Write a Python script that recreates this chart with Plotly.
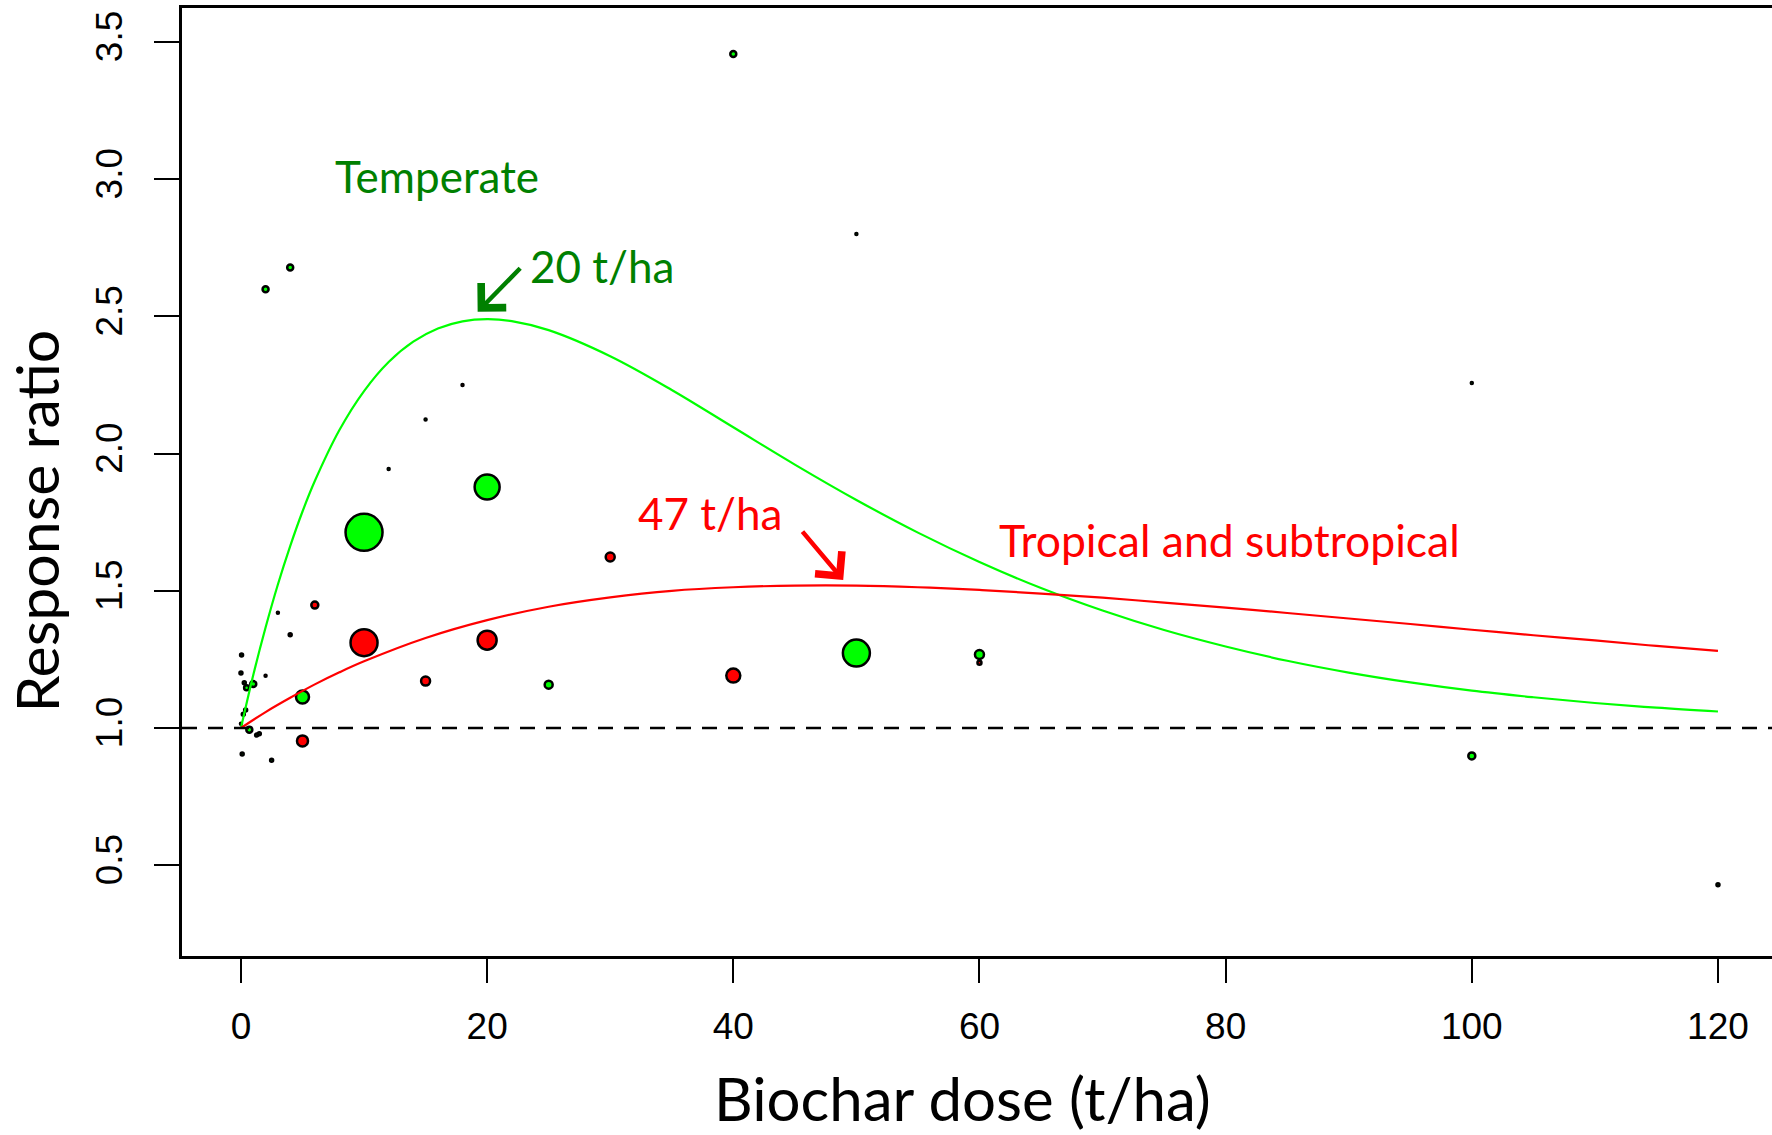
import plotly.graph_objects as go

# ---- Data ----
# Temperate studies (green points)
temp_dose = [10, 20, 50, 5, 60, 25, 40, 4, 2, 100, 1, 0.46, 0.68,
             0.05, 0, 0.27, 0.38, 0.19, 0, 1.27, 1.49, 0.1, 2.49,
             50, 100, 120, 12, 15]
temp_rr = [1.713, 1.878, 1.273, 1.113, 1.268, 1.158, 3.456, 2.678, 2.599, 0.898, 1.16, 1.147, 0.994,
           1.266, 1.20, 1.165, 1.066, 1.05, 1.015, 0.974, 0.979, 0.905, 0.882,
           2.80, 2.257, 0.429, 1.944, 2.124]
temp_weight = [39, 27, 29, 15, 11, 10, 8, 8, 8, 9, 8, 7, 8,
               5, 5, 5, 5, 5, 4, 5, 5, 5, 5,
               4, 4, 5, 4, 4]

# Tropical and subtropical studies (red points)
trop_dose = [10, 20, 30, 40, 15, 6, 5, 60, 18, 3, 4, 2]
trop_rr = [1.311, 1.320, 1.623, 1.191, 1.171, 1.448, 0.953, 1.238, 2.25, 1.42, 1.34, 1.19]
trop_weight = [29, 21, 11, 16, 11, 9, 13, 6, 4, 4, 5, 4]

# Fitted response curves
green_x = [0, 1, 2, 3, 4, 5, 6, 8, 10, 12, 14, 16, 18, 20, 22, 25, 30, 35, 40, 45, 50,
           55, 60, 65, 70, 75, 80, 85, 90, 95, 100, 105, 110, 115, 120]
green_y = [1.000, 1.193, 1.366, 1.523, 1.663, 1.789, 1.900, 2.086, 2.228, 2.334, 2.408, 2.456,
           2.482, 2.490, 2.483, 2.450, 2.355, 2.232, 2.096, 1.960, 1.831, 1.712, 1.605, 1.510,
           1.428, 1.357, 1.297, 1.245, 1.202, 1.166, 1.136, 1.112, 1.091, 1.074, 1.060]
red_x = [0, 2, 4, 6, 8, 10, 15, 20, 25, 30, 35, 40, 45, 50, 55, 60, 65, 70, 75, 80, 85, 90,
         95, 100, 105, 110, 115, 120]
red_y = [1.000, 1.058, 1.110, 1.159, 1.203, 1.243, 1.328, 1.393, 1.442, 1.476, 1.500, 1.513,
         1.519, 1.519, 1.513, 1.503, 1.490, 1.475, 1.457, 1.439, 1.419, 1.399, 1.379, 1.358,
         1.338, 1.319, 1.299, 1.281]

x_ticks = [0, 20, 40, 60, 80, 100, 120]
y_ticks = [0.5, 1.0, 1.5, 2.0, 2.5, 3.0, 3.5]
y_tick_text = ["0.5", "1.0", "1.5", "2.0", "2.5", "3.0", "3.5"]

peak_temp = (19.23, 2.517)
peak_trop = (48.93, 1.539)

GREEN = "#00FF00"
RED = "#FF0000"
DARKGREEN = "#008000"
TITLE_FONT = "Lato"
TICK_FONT = "Liberation Sans"

fig = go.Figure()

fig.add_hline(y=1.0, line=dict(color="black", width=2.5, dash="15px,11px"))

fig.add_trace(go.Scatter(
    x=temp_dose, y=temp_rr, mode="markers",
    marker=dict(color=GREEN, opacity=1, size=[max(w - 2, 2) for w in temp_weight],
                line=dict(color="black", width=2.5)),
    hoverinfo="skip"))
fig.add_trace(go.Scatter(
    x=trop_dose, y=trop_rr, mode="markers",
    marker=dict(color=RED, opacity=1, size=[max(w - 2, 2) for w in trop_weight],
                line=dict(color="black", width=2.5)),
    hoverinfo="skip"))

fig.add_trace(go.Scatter(x=green_x, y=green_y, mode="lines",
                         line=dict(color=GREEN, width=2.2, shape="spline")))
fig.add_trace(go.Scatter(x=red_x, y=red_y, mode="lines",
                         line=dict(color=RED, width=2.2, shape="spline")))

ann_font = 44
fig.add_annotation(x=7.45, y=3.01, text="Temperate", showarrow=False,
                   xanchor="left", yanchor="middle",
                   font=dict(family=TITLE_FONT, size=ann_font, color=DARKGREEN))
fig.add_annotation(x=23.36, y=2.684, text="20 t/ha", showarrow=False,
                   xanchor="left", yanchor="middle",
                   font=dict(family=TITLE_FONT, size=ann_font, color=DARKGREEN))
fig.add_annotation(x=32.08, y=1.784, text="47 t/ha", showarrow=False,
                   xanchor="left", yanchor="middle",
                   font=dict(family=TITLE_FONT, size=ann_font, color=RED))
fig.add_annotation(x=61.45, y=1.688, text="Tropical and subtropical", showarrow=False,
                   xanchor="left", yanchor="middle",
                   font=dict(family=TITLE_FONT, size=44.5, color=RED))

fig.add_annotation(x=peak_temp[0], y=peak_temp[1], text="", showarrow=True,
                   ax=44, ay=-45, arrowhead=4, arrowsize=1.5, arrowwidth=4.5,
                   arrowcolor=DARKGREEN)
fig.add_annotation(x=peak_trop[0], y=peak_trop[1], text="", showarrow=True,
                   ax=-42, ay=-50, arrowhead=4, arrowsize=1.5, arrowwidth=4.5,
                   arrowcolor=RED)

# axis titles
fig.add_annotation(xref="paper", yref="paper", x=0.4906, y=-0.150,
                   text="Biochar dose (t/ha)", showarrow=False,
                   xanchor="center", yanchor="middle",
                   font=dict(family=TITLE_FONT, size=60, color="black"))
fig.add_annotation(xref="paper", yref="paper", x=-0.0918, y=0.4584,
                   text="Response ratio", showarrow=False, textangle=-90,
                   xanchor="center", yanchor="middle",
                   font=dict(family=TITLE_FONT, size=59, color="black"))

fig.update_layout(
    width=1772, height=1135,
    margin=dict(l=182, r=0, t=8, b=179),
    plot_bgcolor="white", paper_bgcolor="white",
    showlegend=False,
    xaxis=dict(range=[-4.79, 124.39], tickvals=x_ticks, ticks="outside",
               ticklen=24, tickwidth=2, tickcolor="black",
               showline=True, linewidth=2.5, linecolor="black", mirror=True,
               showgrid=False, zeroline=False, ticklabelstandoff=12,
               tickfont=dict(family=TICK_FONT, size=37, color="black")),
    yaxis=dict(range=[0.169, 3.624], tickvals=y_ticks, ticktext=y_tick_text,
               ticks="outside", ticklen=25, tickwidth=2, tickcolor="black",
               tickangle=-90,
               showline=True, linewidth=2.5, linecolor="black", mirror=False,
               showgrid=False, zeroline=False, ticklabelstandoff=17,
               tickfont=dict(family=TICK_FONT, size=37, color="black")),
)

fig.write_html("out.html")
